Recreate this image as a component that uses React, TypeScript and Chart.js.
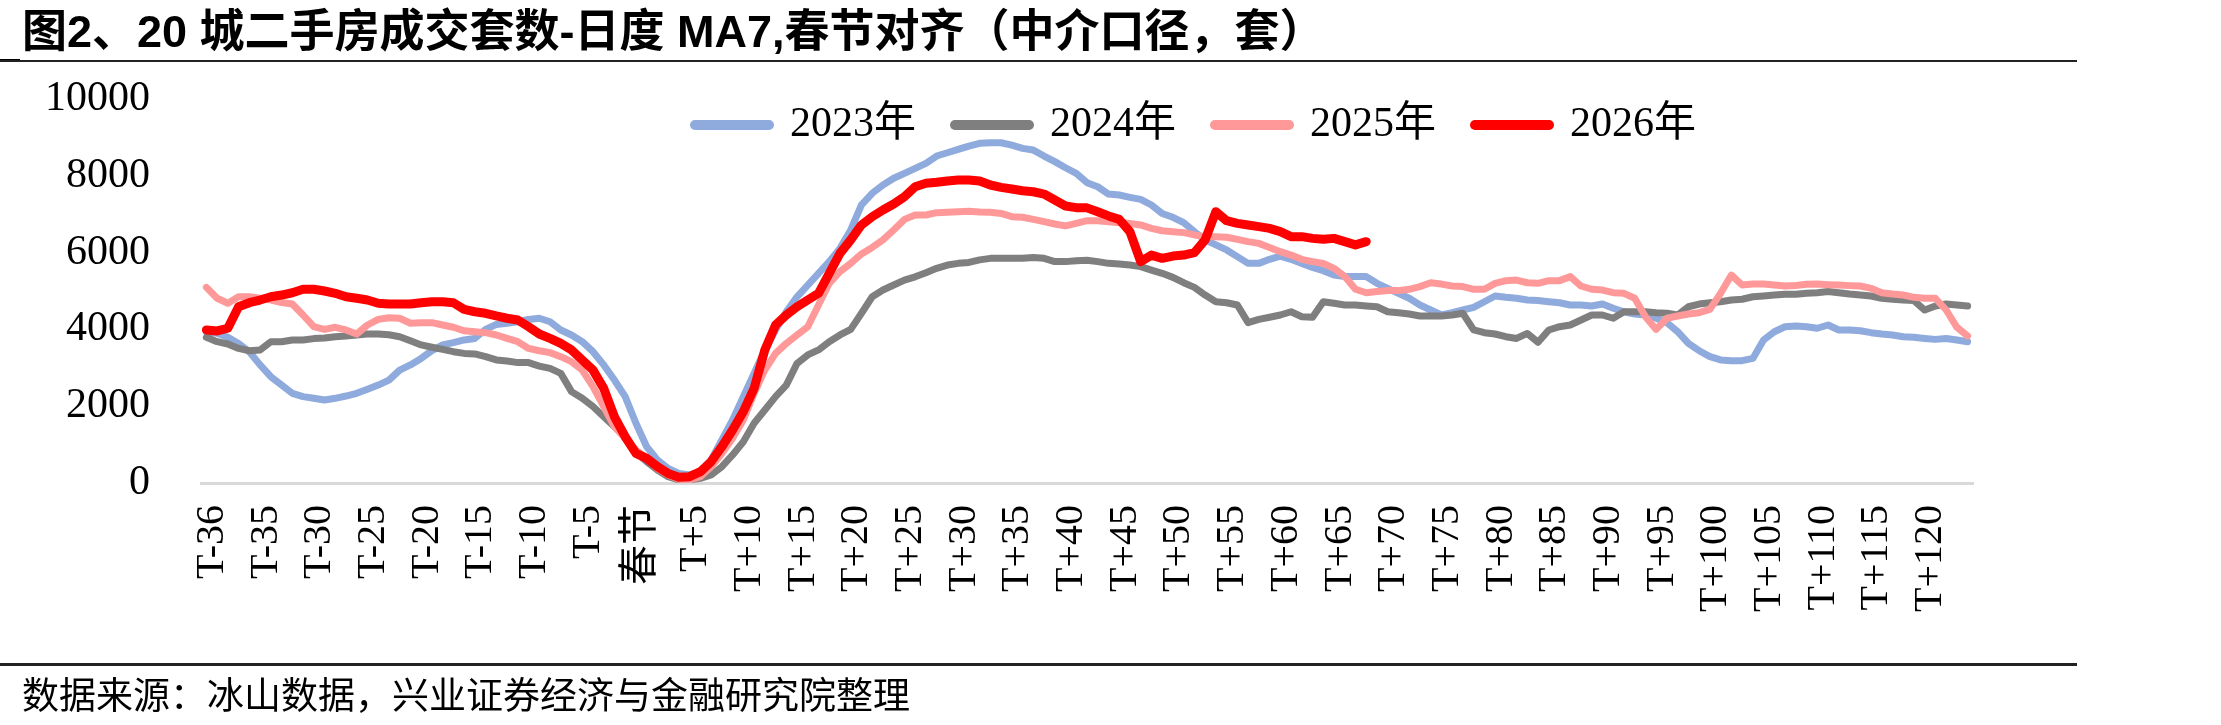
import React, { useEffect, useRef } from 'react';
import { Chart, registerables } from 'chart.js';

Chart.register(...registerables);

// Category axis: day offsets around Spring Festival (T-40 ... T+124), every 5th labelled
const categories: string[] = Array.from({ length: 165 }, (_, i) => {
  const d = i - 40;
  return d === 0 ? '春节' : d < 0 ? `T${d}` : `T+${d}`;
});

const tickLabels = [
  'T-36', 'T-35', 'T-30', 'T-25', 'T-20', 'T-15', 'T-10', 'T-5', '春节',
  'T+5', 'T+10', 'T+15', 'T+20', 'T+25', 'T+30', 'T+35', 'T+40', 'T+45', 'T+50',
  'T+55', 'T+60', 'T+65', 'T+70', 'T+75', 'T+80', 'T+85', 'T+90', 'T+95', 'T+100',
  'T+105', 'T+110', 'T+115', 'T+120',
];

const seriesNames = ['2023年', '2024年', '2025年', '2026年'];

const s2023 = [
  3940, 3900, 3795, 3635, 3420, 3075, 2770, 2550, 2335, 2250,
  2205, 2160, 2205, 2265, 2335, 2440, 2550, 2680, 2940, 3075,
  3245, 3445, 3595, 3655, 3725, 3765, 4000, 4130, 4160, 4200,
  4260, 4290, 4200, 3985, 3855, 3680, 3420, 3075, 2680, 2250,
  1555, 945, 600, 380, 250, 210, 295, 600, 1120, 1640,
  2250, 2855, 3465, 3985, 4460, 4850, 5155, 5460, 5765, 6110,
  6590, 7240, 7545, 7760, 7935, 8065, 8195, 8325, 8515, 8600,
  8690, 8775, 8845, 8860, 8860, 8800, 8715, 8670, 8515, 8370,
  8210, 8065, 7820, 7715, 7525, 7500, 7440, 7385, 7240, 7020,
  6920, 6780, 6545, 6330, 6200, 6070, 5895, 5720, 5720, 5825,
  5910, 5825, 5720, 5615, 5530, 5415, 5375, 5375, 5375, 5200,
  5070, 4940, 4810, 4635, 4505, 4375, 4435, 4505, 4575, 4720,
  4870, 4835, 4810, 4765, 4750, 4720, 4695, 4635, 4635, 4610,
  4660, 4550, 4460, 4400, 4375, 4290, 4175, 3940, 3635, 3445,
  3290, 3205, 3185, 3185, 3245, 3725, 3940, 4070, 4090, 4070,
  4030, 4115, 3985, 3985, 3965, 3915, 3880, 3855, 3810, 3795,
  3765, 3740, 3765, 3725, 3680,
];

const s2024 = [
  3795, 3680, 3620, 3505, 3445, 3465, 3680, 3680, 3725, 3725,
  3760, 3775, 3810, 3830, 3855, 3880, 3880, 3860, 3810, 3705,
  3595, 3535, 3480, 3420, 3375, 3360, 3290, 3205, 3175, 3135,
  3135, 3045, 2985, 2855, 2380, 2205, 1990, 1725, 1465, 1205,
  800, 555, 340, 165, 80, 80, 120, 210, 425, 730,
  1075, 1555, 1900, 2250, 2550, 3115, 3335, 3465, 3680, 3855,
  4000, 4420, 4850, 5025, 5155, 5285, 5370, 5475, 5590, 5675,
  5720, 5745, 5810, 5850, 5850, 5850, 5850, 5875, 5850, 5765,
  5765, 5790, 5800, 5765, 5720, 5705, 5675, 5635, 5545, 5460,
  5355, 5215, 5095, 4895, 4720, 4695, 4635, 4175, 4260, 4315,
  4375, 4460, 4330, 4315, 4720, 4680, 4635, 4635, 4610, 4590,
  4460, 4435, 4400, 4350, 4350, 4350, 4375, 4420, 3985, 3915,
  3880, 3810, 3765, 3895, 3665, 3985, 4070, 4115, 4245, 4375,
  4375, 4290, 4460, 4460, 4460, 4435, 4420, 4375, 4590, 4660,
  4695, 4720, 4765, 4785, 4850, 4870, 4895, 4915, 4915, 4940,
  4955, 4985, 4955, 4920, 4895, 4870, 4810, 4785, 4765, 4750,
  4505, 4610, 4660, 4635, 4610,
];

const s2025 = [
  5095, 4810, 4680, 4850, 4850, 4810, 4765, 4700, 4660, 4375,
  4070, 4000, 4055, 3985, 3880, 4115, 4260, 4305, 4290, 4160,
  4175, 4175, 4115, 4055, 3965, 3940, 3915, 3855, 3765, 3680,
  3505, 3445, 3395, 3290, 3160, 2940, 2510, 1990, 1465, 1160,
  860, 640, 380, 210, 95, 80, 165, 425, 770, 1165,
  1640, 2335, 2940, 3375, 3635, 3855, 4070, 4635, 5200, 5505,
  5720, 5965, 6135, 6330, 6590, 6865, 6980, 6980, 7040, 7050,
  7065, 7075, 7055, 7050, 7020, 6935, 6920, 6865, 6805, 6745,
  6695, 6760, 6830, 6830, 6805, 6780, 6760, 6720, 6630, 6570,
  6545, 6520, 6460, 6415, 6415, 6400, 6345, 6285, 6240, 6135,
  6025, 5935, 5825, 5765, 5720, 5590, 5375, 5045, 4955, 4985,
  5010, 5010, 5045, 5115, 5215, 5180, 5130, 5115, 5045, 5045,
  5200, 5270, 5285, 5215, 5200, 5270, 5270, 5375, 5130, 5045,
  5025, 4955, 4940, 4810, 4330, 4000, 4290, 4350, 4400, 4435,
  4520, 4940, 5415, 5155, 5180, 5180, 5155, 5130, 5145, 5175,
  5180, 5165, 5155, 5140, 5130, 5070, 4955, 4920, 4895, 4835,
  4810, 4810, 4505, 4055, 3830,
];

const s2026 = [
  3985, 3960, 4030, 4590, 4695, 4765, 4850, 4895, 4955, 5045,
  5045, 5000, 4940, 4850, 4810, 4765, 4680, 4660, 4660, 4660,
  4695, 4720, 4720, 4695, 4520, 4460, 4420, 4350, 4290, 4245,
  4070, 3880, 3765, 3635, 3465, 3205, 2940, 2465, 1725, 1205,
  770, 640, 425, 250, 150, 165, 295, 555, 945, 1380,
  1860, 2465, 3465, 4115, 4375, 4590, 4765, 4940, 5460, 5980,
  6330, 6720, 6935, 7110, 7265, 7455, 7715, 7805, 7830, 7865,
  7890, 7890, 7865, 7760, 7700, 7655, 7610, 7585, 7525, 7370,
  7215, 7170, 7165, 7065, 6955, 6865, 6545, 5765, 5935, 5850,
  5910, 5935, 6000, 6330, 7065, 6830, 6760, 6720, 6675, 6630,
  6545, 6415, 6415, 6370, 6345, 6370, 6285, 6200, 6285,
];

const yMin = 0;
const yMax = 10000;
const yStep = 2000;

const W = 2221;
const H = 725;
const PLOT_LEFT = 201;
const PLOT_RIGHT = 1973;
const PLOT_TOP = 99;
const PLOT_BOTTOM = 483;
const X_AXIS_H = 200;

const SERIF = "'Times New Roman', 'Liberation Serif', 'Noto Sans CJK SC', serif";
const SANS = "'Liberation Sans', Arial, 'Noto Sans CJK SC', sans-serif";

export default function App() {
  const ref = useRef<HTMLCanvasElement | null>(null);

  useEffect(() => {
    const canvas = ref.current;
    if (!canvas) return;

    const LEG_PAD = 39;
    const LEG_FONT = 42;

    const legendPlacement = {
      id: 'legendPlacement',
      beforeInit(chart: any) {
        const lg = chart.legend;
        if (!lg) return;
        const fit = lg.fit;
        lg.fit = function () {
          fit.call(this);
          this.height = PLOT_TOP;
        };
      },
      afterLayout(chart: any) {
        const lg = chart.legend;
        if (!lg) return;
        lg.left = 695 - LEG_PAD;
        lg.top = 125 - LEG_FONT / 2 - LEG_PAD;
        lg.right = W;
        lg.bottom = lg.top + LEG_PAD * 2 + LEG_FONT + 20;
      },
    };

    const colors = ['#8FAADC', '#7F7F7F', '#FF9999', '#FF0000'];
    const widths = [7, 7, 7, 9];
    const allData = [s2023, s2024, s2025, s2026];

    const chart = new Chart(canvas, {
      type: 'line',
      data: {
        labels: categories,
        datasets: seriesNames.map((name, k) => ({
          label: name,
          data: allData[k],
          borderColor: colors[k],
          backgroundColor: colors[k],
          borderWidth: widths[k],
          pointRadius: 0,
          pointHoverRadius: 0,
          tension: 0,
          fill: false,
          borderCapStyle: 'round' as const,
          borderJoinStyle: 'round' as const,
          order: 3 - k,
        })),
      },
      options: {
        responsive: false,
        maintainAspectRatio: false,
        animation: false,
        devicePixelRatio: 1,
        layout: {
          padding: {
            left: 0,
            top: 0,
            right: W - PLOT_RIGHT,
            bottom: H - PLOT_BOTTOM - X_AXIS_H,
          },
        },
        plugins: {
          tooltip: { enabled: false },
          title: { display: false },
          legend: {
            display: true,
            position: 'top',
            align: 'start',
            labels: {
              usePointStyle: true,
              pointStyle: 'line',
              pointStyleWidth: 74,
              padding: LEG_PAD,
              color: '#000000',
              font: { family: SERIF, size: LEG_FONT },
              sort: (a: any, b: any) => a.datasetIndex - b.datasetIndex,
              generateLabels: (ch: any) =>
                Chart.defaults.plugins.legend.labels
                  .generateLabels(ch)
                  .map((it: any) => ({ ...it, lineWidth: 10, lineCap: 'round', pointStyle: 'line' })),
            },
          },
        },
        scales: {
          x: {
            type: 'category',
            offset: true,
            grid: { display: false, drawTicks: false },
            border: { display: true, color: '#D9D9D9', width: 3 },
            ticks: {
              autoSkip: false,
              maxRotation: 90,
              minRotation: 90,
              padding: 22,
              labelOffset: 6,
              color: '#000000',
              font: { family: SERIF, size: 40 },
              callback: (_v: any, i: number) => (i % 5 === 0 ? tickLabels[i / 5] ?? '' : ''),
            },
            afterFit: (s: any) => {
              s.height = X_AXIS_H;
            },
          },
          y: {
            min: yMin,
            max: yMax,
            grid: { display: false, drawTicks: false },
            border: { display: false },
            ticks: {
              stepSize: yStep,
              padding: PLOT_LEFT - 150,
              color: '#000000',
              font: { family: SERIF, size: 42 },
              callback: (v: any) => String(v),
            },
            afterFit: (s: any) => {
              s.width = PLOT_LEFT;
            },
          },
        },
      },
      plugins: [legendPlacement],
    } as any);

    return () => {
      chart.destroy();
    };
  }, []);

  return (
    <div
      style={{
        position: 'fixed',
        left: 0,
        top: 0,
        width: W,
        height: H,
        background: '#ffffff',
        overflow: 'hidden',
      }}
    >
      <canvas
        ref={ref}
        width={W}
        height={H}
        style={{ position: 'absolute', left: 0, top: 0, width: W, height: H }}
      />
      <div
        style={{
          position: 'absolute',
          left: 22,
          top: 9,
          fontFamily: SANS,
          fontWeight: 700,
          fontSize: 45,
          lineHeight: '45px',
          color: '#000',
          whiteSpace: 'nowrap',
        }}
      >
        图2、20 城二手房成交套数-日度 MA7,春节对齐（中介口径，套）
      </div>
      <div style={{ position: 'absolute', left: 0, top: 59, width: 20, height: 3, background: '#000' }} />
      <div style={{ position: 'absolute', left: 0, top: 60, width: 2077, height: 2, background: '#222' }} />
      <div style={{ position: 'absolute', left: 0, top: 663, width: 2077, height: 3, background: '#222' }} />
      <div
        style={{
          position: 'absolute',
          left: 22,
          top: 675,
          fontFamily: "'Noto Sans CJK SC', sans-serif",
          fontWeight: 400,
          fontSize: 37,
          lineHeight: '37px',
          color: '#000',
          whiteSpace: 'nowrap',
        }}
      >
        数据来源：冰山数据，兴业证券经济与金融研究院整理
      </div>
    </div>
  );
}
